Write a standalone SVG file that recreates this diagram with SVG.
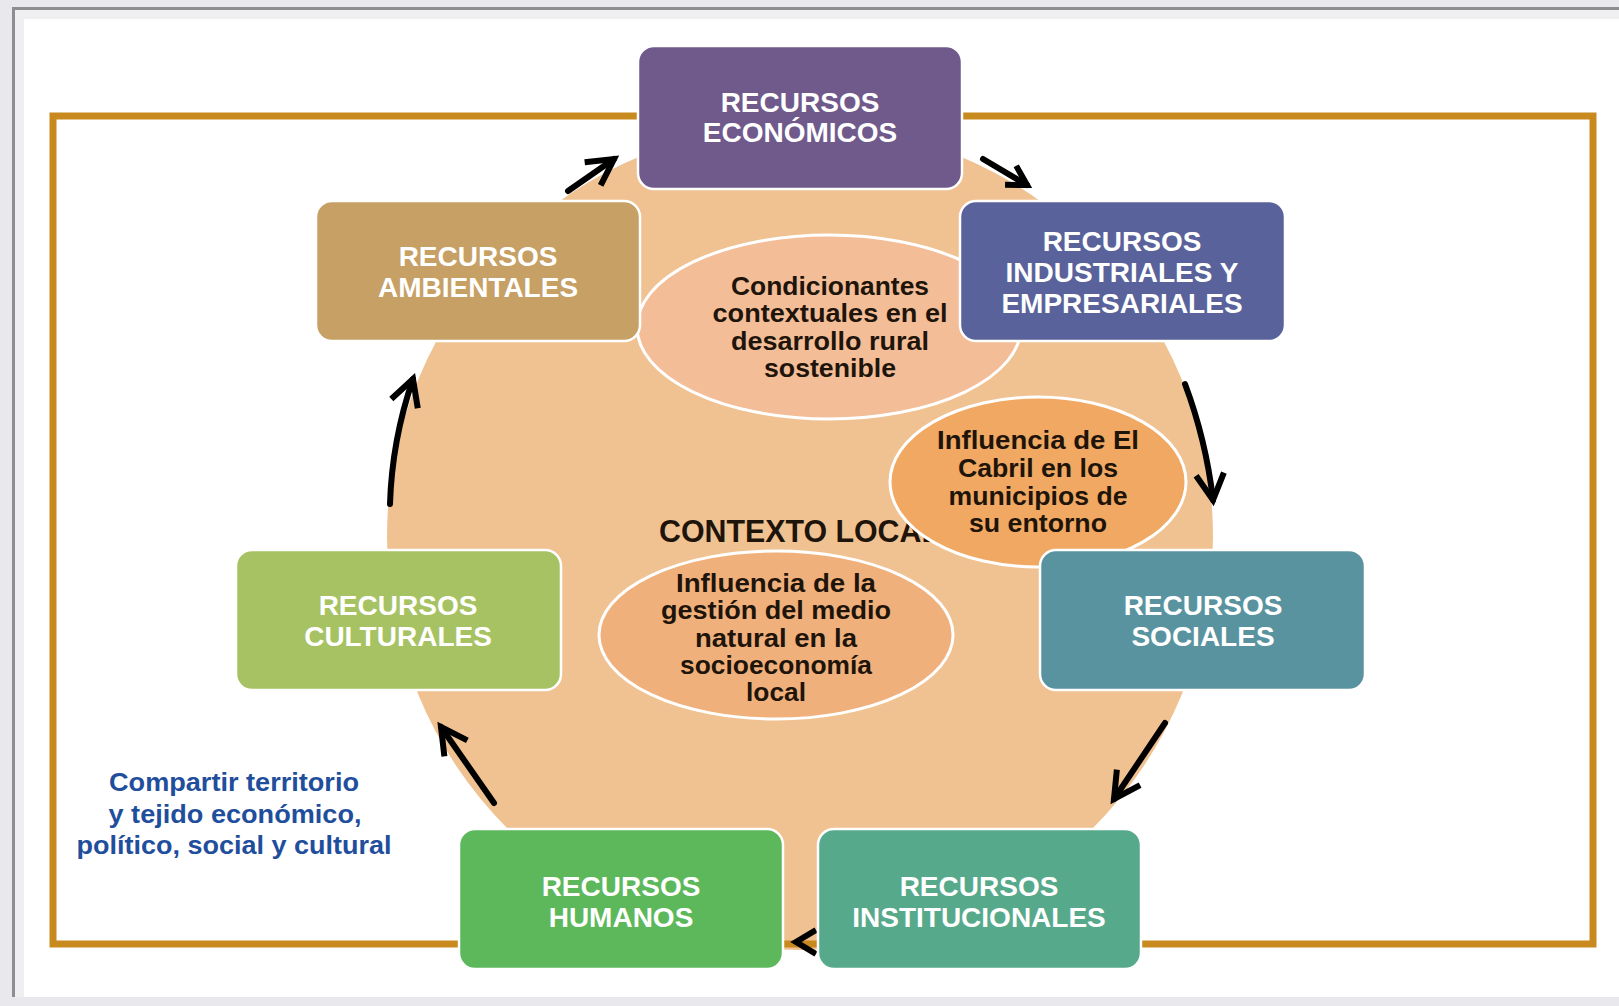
<svg xmlns="http://www.w3.org/2000/svg" width="1619" height="1006" viewBox="0 0 1619 1006">
<style>
.box{stroke:#ffffff;stroke-width:2.5}
.bt{font-family:"Liberation Sans",Arial,sans-serif;font-weight:bold;font-size:28px;fill:#ffffff;text-anchor:middle}
.et{font-family:"Liberation Sans",Arial,sans-serif;font-weight:bold;font-size:25px;fill:#1e140a;text-anchor:middle}
.ell{stroke:#ffffff;stroke-width:3}
.arr{fill:none;stroke:#000000;stroke-width:6;stroke-linecap:round}
.bl{font-family:"Liberation Sans",Arial,sans-serif;font-weight:bold;font-size:26px;fill:#1f4e9c;text-anchor:middle}
</style>
<defs>
<marker id="hb" markerUnits="userSpaceOnUse" markerWidth="40" markerHeight="40" viewBox="-32 -20 40 40" refX="0" refY="0" orient="auto">
<path d="M-26,-14 L0,0 L-26,14" fill="none" stroke="#000" stroke-width="6" stroke-linejoin="miter"/>
</marker>
<marker id="hs" markerUnits="userSpaceOnUse" markerWidth="32" markerHeight="32" viewBox="-26 -16 32 32" refX="0" refY="0" orient="auto">
<path d="M-19,-11 L0,0 L-19,11" fill="none" stroke="#000" stroke-width="6" stroke-linejoin="miter"/>
</marker>
</defs>
<rect x="0" y="0" width="1619" height="1006" fill="#e9e9ed"/>
<rect x="12" y="7" width="1620" height="990" fill="#efeff2"/>
<path d="M13.5,997 L13.5,8.5 L1619,8.5" fill="none" stroke="#8e8e92" stroke-width="3"/>
<rect x="24" y="19" width="1600" height="978" fill="#ffffff"/>
<g id="contexto">
<circle cx="800" cy="537" r="413" fill="#f0c292"/>
<text x="659" y="542" font-family="Liberation Sans, Arial, sans-serif" font-weight="bold" font-size="31" fill="#1e140a" textLength="281" lengthAdjust="spacingAndGlyphs">CONTEXTO LOCAL</text>
</g>
<rect id="marco" x="53" y="116" width="1540" height="828" fill="none" stroke="#c8891e" stroke-width="7"/>
<g id="connectors">
<path class="arr" d="M568,191 L614,159" marker-end="url(#hb)"/>
<path class="arr" d="M983,159 L1027,185" marker-end="url(#hs)"/>
<path class="arr" d="M1185,384 Q1206,440 1213,500" marker-end="url(#hb)"/>
<path class="arr" d="M1165,723 L1114,799" marker-end="url(#hb)"/>
<path d="M816,930 L796,942 L816,954" fill="none" stroke="#000" stroke-width="6"/>
<path class="arr" d="M494,803 L441,727" marker-end="url(#hb)"/>
<path class="arr" d="M390,504 Q392,440 413,379" marker-end="url(#hb)"/>
</g>
<g id="condicionantes">
<ellipse class="ell" cx="829" cy="327" rx="192" ry="92" fill="#f3bd98"/>
<text class="et" x="830" y="295" textLength="198" lengthAdjust="spacingAndGlyphs">Condicionantes</text>
<text class="et" x="830" y="322" textLength="235" lengthAdjust="spacingAndGlyphs">contextuales en el</text>
<text class="et" x="830" y="350" textLength="198" lengthAdjust="spacingAndGlyphs">desarrollo rural</text>
<text class="et" x="830" y="377" textLength="132" lengthAdjust="spacingAndGlyphs">sostenible</text>
</g>
<g id="cabril">
<ellipse class="ell" cx="1038" cy="482" rx="148" ry="85" fill="#f0a862"/>
<text class="et" x="1038" y="449" textLength="202" lengthAdjust="spacingAndGlyphs">Influencia de El</text>
<text class="et" x="1038" y="477" textLength="160" lengthAdjust="spacingAndGlyphs">Cabril en los</text>
<text class="et" x="1038" y="505" textLength="179" lengthAdjust="spacingAndGlyphs">municipios de</text>
<text class="et" x="1038" y="532" textLength="138" lengthAdjust="spacingAndGlyphs">su entorno</text>
</g>
<g id="gestion">
<ellipse class="ell" cx="776" cy="635" rx="177" ry="84" fill="#f0b07c"/>
<text class="et" x="776" y="592" textLength="200" lengthAdjust="spacingAndGlyphs">Influencia de la</text>
<text class="et" x="776" y="619" textLength="230" lengthAdjust="spacingAndGlyphs">gestión del medio</text>
<text class="et" x="776" y="647" textLength="162" lengthAdjust="spacingAndGlyphs">natural en la</text>
<text class="et" x="776" y="674" textLength="192" lengthAdjust="spacingAndGlyphs">socioeconomía</text>
<text class="et" x="776" y="701" textLength="60" lengthAdjust="spacingAndGlyphs">local</text>
</g>
<g id="economicos">
<rect class="box" x="638" y="46" width="324" height="143" rx="16" fill="#705a8c"/>
<text class="bt" x="800" y="112">RECURSOS</text>
<text class="bt" x="800" y="142">ECONÓMICOS</text>
</g>
<g id="industriales">
<rect class="box" x="960" y="201" width="325" height="140" rx="16" fill="#59629a"/>
<text class="bt" x="1122" y="251">RECURSOS</text>
<text class="bt" x="1122" y="282">INDUSTRIALES Y</text>
<text class="bt" x="1122" y="313">EMPRESARIALES</text>
</g>
<g id="ambientales">
<rect class="box" x="316" y="201" width="324" height="140" rx="16" fill="#c6a064"/>
<text class="bt" x="478" y="266">RECURSOS</text>
<text class="bt" x="478" y="297">AMBIENTALES</text>
</g>
<g id="culturales">
<rect class="box" x="236" y="550" width="325" height="140" rx="16" fill="#a7c262"/>
<text class="bt" x="398" y="615">RECURSOS</text>
<text class="bt" x="398" y="646">CULTURALES</text>
</g>
<g id="sociales">
<rect class="box" x="1040" y="550" width="325" height="140" rx="16" fill="#5a93a0"/>
<text class="bt" x="1203" y="615">RECURSOS</text>
<text class="bt" x="1203" y="646">SOCIALES</text>
</g>
<g id="humanos">
<rect class="box" x="459" y="829" width="324" height="140" rx="16" fill="#5db85b"/>
<text class="bt" x="621" y="896">RECURSOS</text>
<text class="bt" x="621" y="927">HUMANOS</text>
</g>
<g id="institucionales">
<rect class="box" x="818" y="829" width="323" height="140" rx="16" fill="#57a98b"/>
<text class="bt" x="979" y="896">RECURSOS</text>
<text class="bt" x="979" y="927">INSTITUCIONALES</text>
</g>
<g id="compartir">
<text class="bl" x="234" y="791" textLength="250" lengthAdjust="spacingAndGlyphs">Compartir territorio</text>
<text class="bl" x="235" y="823" textLength="253" lengthAdjust="spacingAndGlyphs">y tejido económico,</text>
<text class="bl" x="234" y="854" textLength="315" lengthAdjust="spacingAndGlyphs">político, social y cultural</text>
</g>
</svg>
